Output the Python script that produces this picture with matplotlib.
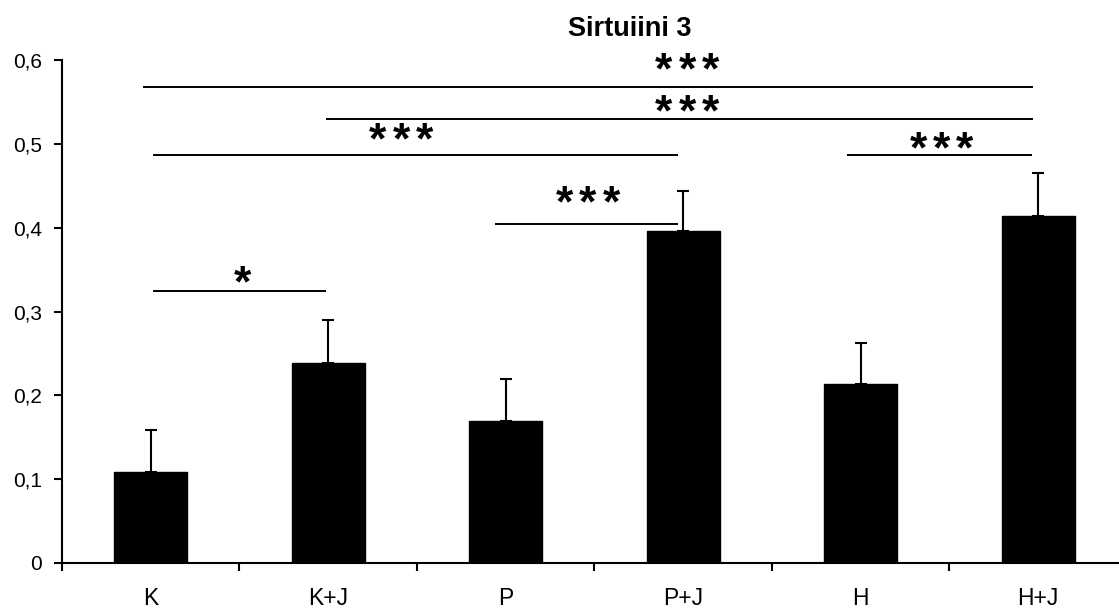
import matplotlib
matplotlib.use("Agg")
import matplotlib.pyplot as plt
import matplotlib.transforms as mtransforms
import numpy as np

plt.rcParams['font.family'] = ['Liberation Sans', 'DejaVu Sans']

categories = ["K", "K+J", "P", "P+J", "H", "H+J"]
values = [0.109, 0.239, 0.169, 0.396, 0.213, 0.414]
errors = [0.050, 0.051, 0.051, 0.048, 0.049, 0.051]
yticks = [0, 0.1, 0.2, 0.3, 0.4, 0.5, 0.6]
ytick_labels = ["0", "0,1", "0,2", "0,3", "0,4", "0,5", "0,6"]
# significance brackets: start index, end index, bracket level, label
sig_start = [0, 2, 0, 4, 1, 0]
sig_end = [1, 3, 3, 5, 5, 5]
sig_level = [0.324, 0.404, 0.487, 0.487, 0.530, 0.568]
sig_label = ["*", "***", "***", "***", "***", "***"]
# small overhangs of bracket ends relative to the category centres
sig_start_off = [0.013, -0.06, 0.013, -0.08, -0.013, -0.045]
sig_end_off = [-0.013, -0.03, -0.03, -0.035, -0.03, -0.03]
# label anchor (data coords) for each bracket's stars
sig_label_x = [0.514, 2.463, 1.41, 4.455, 3.021, 3.021]
sig_label_y = [0.341, 0.4366, 0.5117, 0.5016, 0.545, 0.595]

W, H = 1119, 608
fig = plt.figure(figsize=(W / 100, H / 100), dpi=100)
ax_left, ax_right = 62, 1127
ax_top, ax_bottom = 60, 563
ax = fig.add_axes([ax_left / W, 1 - ax_bottom / H, (ax_right - ax_left) / W, (ax_bottom - ax_top) / H])

x = np.arange(len(categories))
ax.bar(x, values, width=0.41, color='black', edgecolor='black', zorder=2)
ax.errorbar(x, values, yerr=[np.zeros(len(errors)), errors], fmt='none', ecolor='black',
            elinewidth=1.5, capsize=4.5, capthick=1.5, zorder=1)

ax.set_xlim(-0.5, len(categories) - 0.5)
ax.set_ylim(0, 0.6)
ax.set_yticks(yticks)
ax.set_yticklabels(ytick_labels, fontsize=15)
ax.set_xticks(np.arange(-0.5, len(categories), 1.0))
ax.set_xticklabels([])
ax.set_xticks(x, minor=True)
ax.set_xticklabels(categories, minor=True, fontsize=16.5)
ax.tick_params(axis='x', which='minor', length=0, pad=17)
ax.tick_params(axis='x', which='major', length=6, width=1.5, direction='out')
ax.tick_params(axis='y', length=6, width=1.5, direction='out', pad=8.5)
for s in ['top', 'right']:
    ax.spines[s].set_visible(False)
for s in ['left', 'bottom']:
    ax.spines[s].set_linewidth(1.5)

star_fs = 32
star_trans = mtransforms.offset_copy(ax.transData, fig=fig, y=-0.44 * star_fs, units='points')
for i, j, lvl, lab, so, eo, lx, ly in zip(sig_start, sig_end, sig_level, sig_label,
                                          sig_start_off, sig_end_off, sig_label_x, sig_label_y):
    ax.plot([i + so, j + eo], [lvl, lvl], color='black', lw=1.4, clip_on=False, solid_capstyle='butt')
    n = len(lab)
    pitch = 0.13
    for k in range(n):
        ax.text(lx + (k - (n - 1) / 2) * pitch, ly, "*", ha='center', va='baseline',
                fontsize=star_fs, fontweight='bold', transform=star_trans)

fig.text(630 / W, 1 - 26 / H, "Sirtuiini 3", ha='center', va='center_baseline', fontsize=19.5, fontweight='bold')

fig.savefig("out.png", dpi=100)
